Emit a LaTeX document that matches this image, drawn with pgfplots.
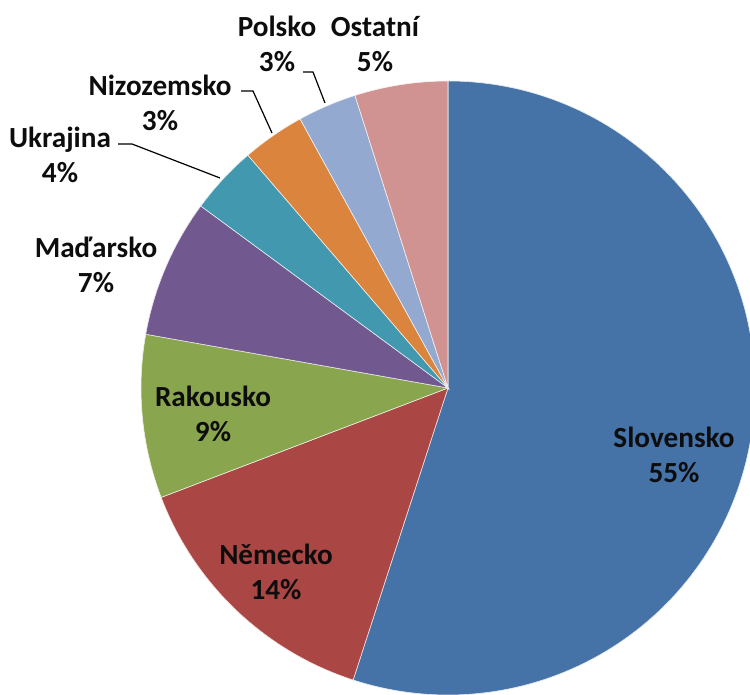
\documentclass[border=0pt]{standalone}
\usepackage{fontspec}
\setmainfont{Carlito}
\usepackage{pgfplots}
\usepackage{pgfplotstable}
\pgfplotsset{compat=1.18}

\definecolor{cSlov}{HTML}{4572A7}
\definecolor{cNem}{HTML}{AA4643}
\definecolor{cRak}{HTML}{89A54E}
\definecolor{cMad}{HTML}{71588F}
\definecolor{cUkr}{HTML}{4198AF}
\definecolor{cNiz}{HTML}{DB843D}
\definecolor{cPol}{HTML}{93A9CF}
\definecolor{cOst}{HTML}{D19392}

% share in percent, shown label, slice colour, label centre (pixel-like units)
\pgfplotstableread[col sep=comma]{
name,value,pct,color,lx,ly
Slovensko,55.0,55,cSlov,674,240
Německo,14.2,14,cNem,276,123
Rakousko,8.6,9,cRak,213,281
Maďarsko,7.3,7,cMad,96,430
Ukrajina,3.6,4,cUkr,60,540
Nizozemsko,3.3,3,cNiz,160,592
Polsko,3.1,3,cPol,277,651
Ostatní,4.9,5,cOst,375,651
}\piedata

\begin{document}
\begin{tikzpicture}
\begin{axis}[
    x=0.5pt, y=0.5pt,
    xmin=0, xmax=750, ymin=0, ymax=695,
    hide axis,
    clip=true]
    \addplot[draw=none] coordinates {(0,0) (750,695)};
    \pgfmathsetmacro{\cum}{90}
    \pgfplotsforeachungrouped \i in {0,...,7}{
        \pgfplotstablegetelem{\i}{value}\of\piedata \let\v\pgfplotsretval
        \pgfplotstablegetelem{\i}{color}\of\piedata \let\c\pgfplotsretval
        \pgfmathsetmacro{\e}{\cum-3.6*\v}
        \edef\cmd{\noexpand\fill[fill=\c, draw=white!85!\c, line width=0.3pt]
            (axis cs:448,307) -- +(\cum:153.5pt)
            arc[start angle=\cum, end angle=\e, radius=153.5pt] -- cycle;}
        \cmd
        \let\cum\e
    }
    % leader lines
    \draw[black, line width=0.6pt] (axis cs:118,551) -- (axis cs:132,551) -- (axis cs:220,517);
    \draw[black, line width=0.6pt] (axis cs:241,604) -- (axis cs:253,604) -- (axis cs:272,562);
    \draw[black, line width=0.6pt] (axis cs:303,623) -- (axis cs:313,623) -- (axis cs:325,592);
    % labels
    \pgfplotsforeachungrouped \i in {0,...,7}{
        \pgfplotstablegetelem{\i}{name}\of\piedata \let\n\pgfplotsretval
        \pgfplotstablegetelem{\i}{pct}\of\piedata \let\p\pgfplotsretval
        \pgfplotstablegetelem{\i}{lx}\of\piedata \let\lx\pgfplotsretval
        \pgfplotstablegetelem{\i}{ly}\of\piedata \let\ly\pgfplotsretval
        \edef\cmd{\noexpand\node[align=center, text=black!95,
            font=\noexpand\bfseries\noexpand\fontsize{14.6}{17.5}\noexpand\selectfont]
            at (axis cs:\lx,\ly) {\n\noexpand\\\p\noexpand\%};}
        \cmd
    }
\end{axis}
\pgfresetboundingbox
\path (current axis.south west) rectangle (current axis.north east);
\end{tikzpicture}
\end{document}
